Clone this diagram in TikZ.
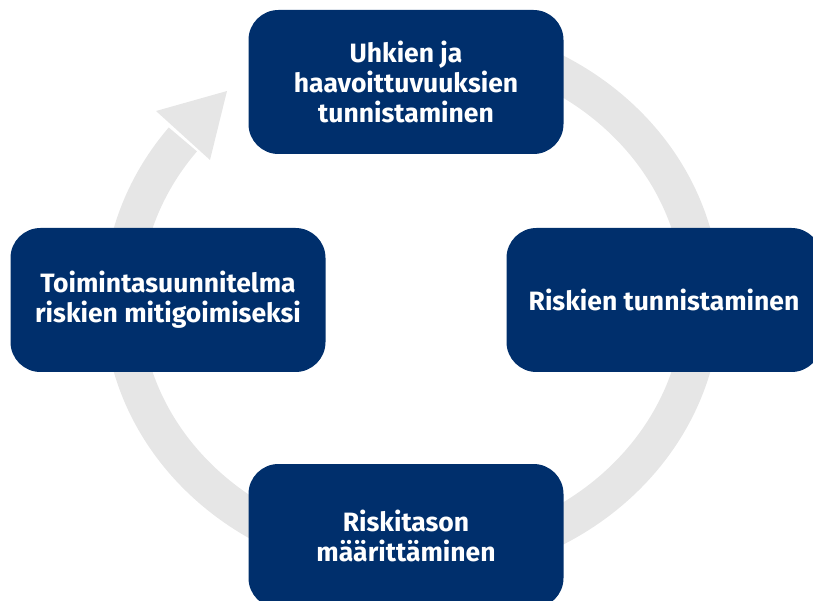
\documentclass[tikz,border=0pt]{standalone}
\usepackage{fontspec}
\setmainfont{Fira Sans}
\definecolor{navy}{HTML}{002F6C}
\definecolor{ringgray}{HTML}{E6E6E6}
\begin{document}
\begin{tikzpicture}
  [x=1pt,y=1pt,
   every node/.style={rectangle,rounded corners=30pt,fill=navy,text=white,
     minimum width=315pt,minimum height=144pt,align=center,inner sep=0pt,
     font=\fontsize{26.5}{30}\selectfont\bfseries}]
  \useasboundingbox (0,0) rectangle (813,600);
  \clip (0,0) rectangle (813,600);

  % grey cycle behind the boxes
  \draw[ringgray,line width=37pt] (412,300) ++(100:290 and 262)
    arc[start angle=100,end angle=-217.8,x radius=290,y radius=262];
  \coordinate (tip) at (227,509);
  \coordinate (b1) at (156,489);
  \coordinate (b2) at (210,440);
  \fill[ringgray] (b1) -- (tip) -- (b2) -- cycle;

  \node (n1) at (406,518) {Uhkien ja\\haavoittuvuuksien\\tunnistaminen};
  \node (n2) at (664,300) {Riskien tunnistaminen};
  \node (n3) at (406,64)  {Riskitason\\määrittäminen};
  \node (n4) at (168,300) {Toimintasuunnitelma\\riskien mitigoimiseksi};
\end{tikzpicture}
\end{document}
